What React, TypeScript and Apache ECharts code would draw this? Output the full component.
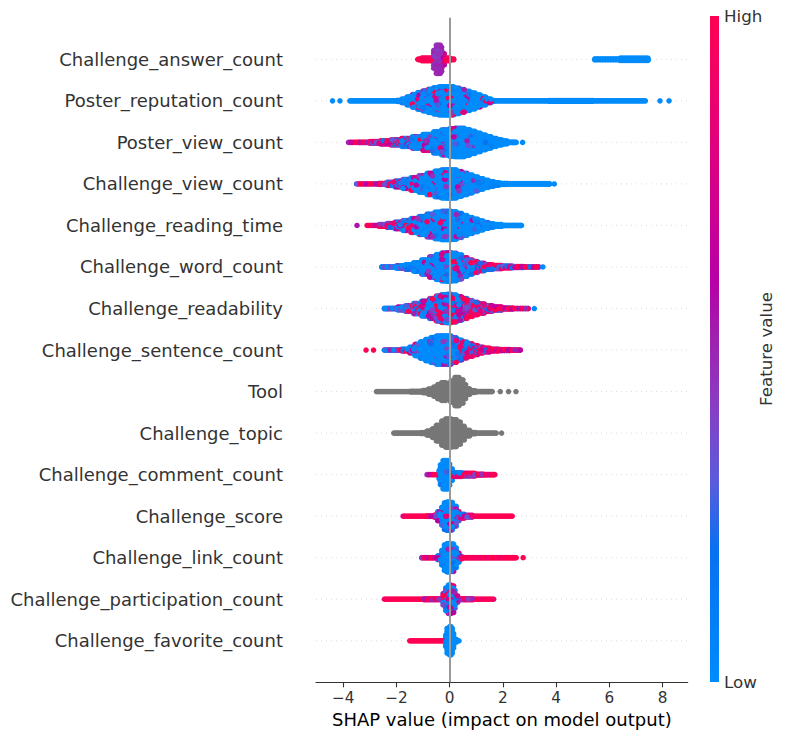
import React, { useEffect, useRef } from "react";
import * as echarts from "echarts";

// Features, bottom row (0) to top row (14)
const featureNames = [
  "Challenge_favorite_count",
  "Challenge_participation_count",
  "Challenge_link_count",
  "Challenge_score",
  "Challenge_comment_count",
  "Challenge_topic",
  "Tool",
  "Challenge_sentence_count",
  "Challenge_readability",
  "Challenge_word_count",
  "Challenge_reading_time",
  "Challenge_view_count",
  "Poster_view_count",
  "Poster_reputation_count",
  "Challenge_answer_count",
];

const xTicks = [-4, -2, 0, 2, 4, 6, 8];
const xMin = -5.02;
const xMax = 8.94;

// Histogram bins read from the swarm:
// [shapFrom, shapTo, density(0..1), featureValueLow, featureValueHigh]
// (from === to is a single isolated point)
const favoriteCount = [
  [-1.54, -0.17, 0, 1, 1.3], [-0.17, -0.1, 0.4, -3, 0.3], [-0.1, -0.02, 0.87, -3, 0.3],
  [-0.02, 0.08, 1.0, -3, 0.3], [0.08, 0.14, 0.87, -3, 0.3], [0.14, 0.2, 0.51, -3, 0.3],
  [0.2, 0.26, 0.09, -3, 0.3], [0.26, 0.39, 0, 0, 0],
];
const participationCount = [
  [-2.45, -1.0, 0, 0.9, 1.3], [-1.0, -0.28, 0.04, 0.4, 1.3], [-0.28, -0.18, 0.4, -0.3, 1.0],
  [-0.18, -0.08, 0.8, -0.5, 0.9], [-0.08, 0.06, 1.0, -0.5, 0.9], [0.06, 0.16, 0.94, -0.5, 0.9],
  [0.16, 0.25, 0.63, -0.4, 0.95], [0.25, 0.34, 0.23, 0, 1.1], [0.34, 0.86, 0.04, 0.4, 1.3],
  [0.86, 1.68, 0, 0.9, 1.3],
];
const linkCount = [
  [-1.08, -0.45, 0.01, 0.4, 1.3], [-0.45, -0.34, 0.13, -0.5, 1.0], [-0.34, -0.22, 0.51, -1.5, 0.7],
  [-0.22, -0.1, 0.9, -2, 0.6], [-0.1, 0.04, 1.0, -2, 0.6], [0.04, 0.17, 0.97, -2, 0.6],
  [0.17, 0.29, 0.7, -1.8, 0.7], [0.29, 0.39, 0.32, -1, 0.9], [0.39, 0.5, 0.09, 0.3, 1.3],
  [0.5, 2.55, 0.01, 0.85, 1.3], [2.76, 2.76, 0, 1, 1],
];
const scoreBins = [
  [-1.76, -0.9, 0, 0.85, 1.4], [-0.9, -0.56, 0.02, 0.4, 1.3], [-0.56, -0.45, 0.09, 0, 1.2],
  [-0.45, -0.34, 0.32, -0.8, 1.0], [-0.34, -0.24, 0.63, -1.5, 0.9], [-0.24, -0.1, 0.94, -1.5, 0.9],
  [-0.1, 0.02, 1.0, -1.5, 0.9], [0.02, 0.15, 0.97, -1.5, 0.9], [0.15, 0.27, 0.7, -1.2, 1.0],
  [0.27, 0.4, 0.32, -0.6, 1.1], [0.4, 0.6, 0.13, 0, 1.3], [0.6, 0.9, 0.06, 0.3, 1.3],
  [0.9, 2.4, 0, 0.9, 1.3],
];
const commentCount = [
  [-0.85, -0.42, 0, 0.5, 1.3], [-0.42, -0.36, 0.28, -2, 0.4], [-0.36, -0.28, 0.7, -3, 0.3],
  [-0.28, -0.14, 1.0, -3, 0.3], [-0.14, -0.04, 1.0, -3, 0.3], [-0.04, 0.04, 0.75, -3, 0.3],
  [0.04, 0.12, 0.4, -2, 0.5], [0.12, 0.5, 0.13, -0.3, 1.2], [0.5, 1.0, 0.09, 0.2, 1.3],
  [1.0, 1.3, 0.04, 0.4, 1.3], [1.3, 1.71, 0.01, 0.8, 1.3],
];
// gray rows (no feature value): [shapFrom, shapTo, density]
const topicBins = [
  [-2.11, -1.1, 0], [-1.1, -0.85, 0.04], [-0.85, -0.68, 0.14], [-0.68, -0.5, 0.3],
  [-0.5, -0.32, 0.55], [-0.32, -0.15, 0.85], [-0.15, 0.1, 1.0], [0.1, 0.28, 0.95],
  [0.28, 0.45, 0.78], [0.45, 0.6, 0.48], [0.6, 0.78, 0.2], [0.78, 1.05, 0.05],
  [1.05, 1.8, 0], [1.95, 1.95, 0],
];
const toolBins = [
  [-2.76, -1.5, 0], [-1.5, -1.0, 0.03], [-1.0, -0.8, 0.08], [-0.8, -0.6, 0.18],
  [-0.6, -0.45, 0.32], [-0.45, -0.3, 0.5], [-0.3, -0.1, 0.63], [-0.1, 0.05, 0.55],
  [0.05, 0.18, 0.75], [0.18, 0.38, 1.0], [0.38, 0.52, 0.82], [0.52, 0.65, 0.5],
  [0.65, 0.8, 0.2], [0.8, 1.0, 0.06], [1.0, 1.61, 0.01],
  [1.9, 1.9, 0], [2.21, 2.21, 0], [2.49, 2.49, 0],
];
const sentenceCount = [
  [-3.14, -3.14, 0, 1, 1], [-2.86, -2.86, 0, 1, 1], [-2.45, -1.8, 0.01, -0.6, 1.4],
  [-1.8, -1.5, 0.06, -0.8, 1.3], [-1.5, -1.3, 0.2, -1.2, 1.0], [-1.3, -1.1, 0.4, -1.6, 0.8],
  [-1.1, -0.9, 0.58, -1.8, 0.7], [-0.9, -0.7, 0.75, -2, 0.6], [-0.7, -0.5, 0.88, -2, 0.6],
  [-0.5, -0.3, 0.99, -2, 0.6], [-0.3, -0.1, 1.0, -1.8, 0.7], [-0.1, 0.1, 1.0, -1.4, 0.8],
  [0.1, 0.3, 0.87, -0.8, 1.0], [0.3, 0.5, 0.7, -0.5, 1.1], [0.5, 0.7, 0.56, -0.2, 1.2],
  [0.7, 0.9, 0.44, 0, 1.3], [0.9, 1.1, 0.32, 0.1, 1.4], [1.1, 1.3, 0.2, 0.2, 1.4],
  [1.3, 1.55, 0.13, 0.2, 1.4], [1.55, 1.9, 0.06, 0.3, 1.4], [1.9, 2.3, 0.04, 0.3, 1.4],
  [2.3, 2.68, 0.01, 0.3, 1.4],
];
const readability = [
  [-2.45, -1.95, 0.02, -0.8, 0.9], [-1.95, -1.65, 0.1, -0.6, 1.0], [-1.65, -1.35, 0.2, -0.5, 1.1],
  [-1.35, -1.05, 0.36, -0.5, 1.15], [-1.05, -0.75, 0.52, -0.5, 1.15], [-0.75, -0.5, 0.7, -0.5, 1.2],
  [-0.5, -0.3, 0.88, -0.5, 1.2], [-0.3, -0.1, 0.98, -0.5, 1.2], [-0.1, 0.1, 1.0, -0.5, 1.2],
  [0.1, 0.3, 0.95, -0.4, 1.25], [0.3, 0.5, 0.83, -0.3, 1.25], [0.5, 0.7, 0.7, -0.2, 1.3],
  [0.7, 0.9, 0.56, -0.1, 1.3], [0.9, 1.1, 0.44, 0, 1.3], [1.1, 1.35, 0.32, 0.1, 1.3],
  [1.35, 1.65, 0.2, 0.15, 1.3], [1.65, 2.0, 0.11, 0.2, 1.3], [2.0, 2.4, 0.05, 0.2, 1.3],
  [2.4, 3.0, 0.01, 0.2, 1.3], [3.18, 3.18, 0, 0, 0],
];
const wordCount = [
  [-2.58, -2.0, 0.01, -0.6, 0.55], [-2.0, -1.65, 0.08, -0.7, 0.55], [-1.65, -1.35, 0.16, -0.9, 0.6],
  [-1.35, -1.05, 0.3, -1.2, 0.7], [-1.05, -0.75, 0.5, -1.6, 0.8], [-0.75, -0.5, 0.72, -2, 0.9],
  [-0.5, -0.3, 0.88, -2.2, 1.0], [-0.3, -0.1, 0.98, -2.2, 1.05], [-0.1, 0.1, 1.0, -2.2, 1.05],
  [0.1, 0.3, 0.97, -2, 1.1], [0.3, 0.5, 0.85, -1.6, 1.1], [0.5, 0.7, 0.66, -1.1, 1.15],
  [0.7, 0.9, 0.5, -0.8, 1.2], [0.9, 1.1, 0.38, -0.5, 1.2], [1.1, 1.35, 0.26, -0.3, 1.2],
  [1.35, 1.65, 0.16, -0.1, 1.25], [1.65, 2.0, 0.11, 0, 1.25], [2.0, 2.4, 0.06, 0.1, 1.25],
  [2.4, 2.8, 0.04, 0.1, 1.25], [2.8, 3.4, 0.01, 0.1, 1.25], [3.5, 3.5, 0, 0, 0],
];
const readingTime = [
  [-3.48, -3.48, 0, 0.55, 0.55], [-3.14, -2.65, 0, 0.4, 1.3], [-2.65, -2.35, 0.06, 0.1, 1.3],
  [-2.35, -2.05, 0.13, 0, 1.25], [-2.05, -1.75, 0.23, -0.5, 1.2], [-1.75, -1.45, 0.35, -0.9, 1.15],
  [-1.45, -1.15, 0.49, -1.3, 1.1], [-1.15, -0.85, 0.63, -1.6, 1.05], [-0.85, -0.55, 0.8, -2, 1.0],
  [-0.55, -0.3, 0.94, -2.2, 0.95], [-0.3, -0.1, 1.0, -2.4, 0.9], [-0.1, 0.1, 1.0, -2.4, 0.9],
  [0.1, 0.3, 0.97, -2.6, 0.85], [0.3, 0.5, 0.85, -2.8, 0.8], [0.5, 0.7, 0.7, -3, 0.7],
  [0.7, 0.9, 0.56, -3, 0.6], [0.9, 1.1, 0.44, -3, 0.5], [1.1, 1.3, 0.32, -3, 0.4],
  [1.3, 1.5, 0.2, -3, 0.3], [1.5, 1.7, 0.11, 0, 0.1], [1.7, 2.0, 0.06, 0, 0],
  [2.0, 2.74, 0.01, 0, 0],
];
const challengeView = [
  [-3.5, -2.7, 0, 0.3, 1.3], [-2.7, -2.35, 0.04, 0.1, 1.3], [-2.35, -2.05, 0.11, -0.2, 1.25],
  [-2.05, -1.75, 0.2, -0.6, 1.2], [-1.75, -1.45, 0.32, -1, 1.15], [-1.45, -1.15, 0.44, -1.3, 1.1],
  [-1.15, -0.85, 0.58, -1.6, 1.05], [-0.85, -0.55, 0.75, -2, 1.0], [-0.55, -0.3, 0.9, -2.2, 0.95],
  [-0.3, -0.1, 0.99, -2.4, 0.9], [-0.1, 0.1, 1.0, -2.5, 0.9], [0.1, 0.3, 0.99, -2.6, 0.85],
  [0.3, 0.5, 0.87, -2.8, 0.8], [0.5, 0.7, 0.75, -3, 0.7], [0.7, 0.9, 0.63, -3, 0.6],
  [0.9, 1.1, 0.49, -3, 0.5], [1.1, 1.3, 0.37, -3, 0.4], [1.3, 1.5, 0.25, -3, 0.3],
  [1.5, 1.7, 0.16, 0, 0.1], [1.7, 1.9, 0.09, 0, 0.1], [1.9, 2.2, 0.04, 0, 0],
  [2.2, 3.8, 0.02, 0, 0], [3.93, 3.93, 0, 0, 0],
];
const posterView = [
  [-3.83, -3.4, 0, 0.5, 1.3], [-3.4, -3.0, 0.01, 0.4, 1.3], [-3.0, -2.6, 0.06, 0.3, 1.3],
  [-2.6, -2.2, 0.11, 0.1, 1.25], [-2.2, -1.8, 0.18, -0.3, 1.2], [-1.8, -1.4, 0.28, -0.8, 1.15],
  [-1.4, -1.0, 0.4, -1.3, 1.1], [-1.0, -0.6, 0.56, -1.8, 1.0], [-0.6, -0.3, 0.75, -2.2, 0.95],
  [-0.3, 0.0, 0.88, -2.5, 0.85], [0.0, 0.2, 0.97, -2.8, 0.8], [0.2, 0.4, 1.0, -3, 0.7],
  [0.4, 0.6, 1.0, -3, 0.7], [0.6, 0.8, 0.9, -3, 0.6], [0.8, 1.0, 0.78, -3, 0.5],
  [1.0, 1.2, 0.65, -3, 0.4], [1.2, 1.4, 0.52, -3, 0.3], [1.4, 1.6, 0.4, -3, 0.25],
  [1.6, 1.8, 0.28, -3, 0.2], [1.8, 2.0, 0.18, 0, 0], [2.0, 2.2, 0.1, 0, 0],
  [2.2, 2.55, 0.02, 0, 0], [2.74, 2.74, 0, 0, 0],
];
const posterReputation = [
  [-4.4, -4.4, 0, 0, 0], [-4.12, -4.12, 0, 0, 0], [-3.76, -2.0, 0, 0, 0],
  [-2.0, -1.8, 0.04, -2, 0.5], [-1.8, -1.6, 0.13, -2.5, 1.0], [-1.6, -1.4, 0.28, -3, 1.2],
  [-1.4, -1.2, 0.44, -3.2, 1.3], [-1.2, -1.0, 0.59, -3.3, 1.35], [-1.0, -0.8, 0.7, -3.4, 1.4],
  [-0.8, -0.6, 0.82, -3.4, 1.4], [-0.6, -0.4, 0.92, -3.4, 1.4], [-0.4, -0.2, 0.99, -3.4, 1.4],
  [-0.2, 0.0, 1.0, -3.4, 1.4], [0.0, 0.2, 0.99, -3.4, 1.35], [0.2, 0.4, 0.9, -3.4, 1.3],
  [0.4, 0.6, 0.8, -3.5, 1.25], [0.6, 0.8, 0.68, -3.5, 1.2], [0.8, 1.0, 0.56, -3.5, 1.2],
  [1.0, 1.2, 0.42, -3.5, 1.2], [1.2, 1.4, 0.28, -3.5, 1.2], [1.4, 1.6, 0.13, -3, 1.2],
  [1.6, 1.75, 0.03, -2, 1.3], [1.75, 3.7, 0, 0, 0], [3.7, 5.4, 0.03, 0, 0],
  [5.4, 7.36, 0, 0, 0], [7.9, 7.9, 0, 0, 0], [8.24, 8.24, 0, 0, 0],
];
const answerCount = [
  [-1.22, -1.05, 0.03, 1, 1.3], [-1.05, -0.62, 0.09, 0.9, 1.3], [-0.62, -0.54, 0.63, 0.42, 0.52],
  [-0.54, -0.44, 1.0, 0.42, 0.52], [-0.44, -0.34, 1.0, 0.42, 0.52], [-0.34, -0.25, 0.85, 0.42, 0.52],
  [-0.25, -0.18, 0.4, 0.5, 0.8], [-0.18, 0.05, 0.09, 0.9, 1.3], [0.05, 0.17, 0.03, 0.9, 1.3],
  [5.43, 6.4, 0.04, 0, 0], [6.4, 7.5, 0.08, 0, 0],
];

const rowBins: number[][][] = [
  favoriteCount, participationCount, linkCount, scoreBins, commentCount, topicBins, toolBins,
  sentenceCount, readability, wordCount, readingTime, challengeView, posterView, posterReputation,
  answerCount,
];
const grayRows = [5, 6];

// ----- styling / layout -----
const FONT = "DejaVu Sans";
const COLOR_STOPS: [number, string][] = [
  [0, "#008bfb"], [0.2, "#0870f0"], [0.3, "#5a5cdc"], [0.42, "#8a3cc2"], [0.52, "#a01fae"],
  [0.6, "#b600a6"], [0.72, "#d00090"], [0.87, "#ec0070"], [1, "#ff0052"],
];
const hex = (h: string) => [1, 3, 5].map((i) => parseInt(h.slice(i, i + 2), 16));
function cmap(v: number): string {
  const t = Math.max(0, Math.min(1, v));
  for (let i = 1; i < COLOR_STOPS.length; i++) {
    const [o1, c1] = COLOR_STOPS[i];
    const [o0, c0] = COLOR_STOPS[i - 1];
    if (t <= o1) {
      const f = (t - o0) / (o1 - o0);
      const a = hex(c0), b = hex(c1);
      const c = a.map((x, j) => Math.round(x + (b[j] - x) * f));
      return `rgb(${c[0]},${c[1]},${c[2]})`;
    }
  }
  return COLOR_STOPS[COLOR_STOPS.length - 1][1];
}

const DX = 0.05; // column step (SHAP units)
const DY = 0.075; // vertical step (row units)
const MAXH = 0.34; // half-height of densest column (row units)
const PHI = 0.6180339887; // colour dither step
const PSI = 0.7548776662; // draw-order step

function buildPoints() {
  const colored: { value: number[]; itemStyle: { color: string }; key: number }[] = [];
  const gray: number[][] = [];
  let idx = 0;
  rowBins.forEach((bins, row) => {
    const isGray = grayRows.includes(row);
    let k = 0;
    for (const bin of bins) {
      const [a, b, s] = bin;
      const lo = bin[3] ?? 0, hi = bin[4] ?? 0;
      const half = s * MAXH;
      const cols: [number, number][] = [];
      if (b > a) {
        for (let m = Math.ceil(a / DX - 1e-9); m * DX < b; m++) cols.push([m * DX, m]);
      }
      if (!cols.length) cols.push([(a + b) / 2, 0]);
      for (const [x, m] of cols) {
        let c = Math.max(1, Math.round((2 * half) / DY) + 1);
        if (half > 0 && Math.abs(m) % 2 === 1) c += 1;
        for (let i = 0; i < c; i++) {
          const off = c === 1 ? 0 : -half + (2 * half * i) / (c - 1);
          if (isGray) {
            gray.push([x, row + off]);
          } else {
            const p = (k * PHI) % 1;
            k++;
            const v = lo + (hi - lo) * p;
            colored.push({ value: [x, row + off], itemStyle: { color: cmap(v) }, key: (idx * PSI) % 1 });
            idx++;
          }
        }
      }
    }
  });
  colored.sort((u, w) => u.key - w.key);
  return { colored: colored.map(({ value, itemStyle }) => ({ value, itemStyle })), gray };
}

export default function App() {
  const ref = useRef<HTMLDivElement>(null);
  useEffect(() => {
    if (!ref.current) return;
    const chart = echarts.init(ref.current, undefined, { renderer: "svg" });
    const { colored, gray } = buildPoints();
    // dotted guide line across each feature row, broken between rows
    const guideData: any[] = [];
    featureNames.forEach((_, i) => {
      if (i > 0) guideData.push("-");
      guideData.push([xMin, i], [xMax, i]);
    });
    const barTop = 16, barBottom = 682;
    chart.setOption({
      animation: false,
      grid: { left: 316, right: 98.3, top: 17.8, bottom: 57.7, containLabel: false },
      xAxis: {
        type: "value",
        min: xMin,
        max: xMax,
        axisLine: { show: true, onZero: false, lineStyle: { color: "#333333", width: 1.1 } },
        axisTick: { show: true, length: 5, lineStyle: { color: "#333333", width: 1.1 }, customValues: xTicks },
        axisLabel: {
          customValues: xTicks,
          formatter: (v: number) => (v < 0 ? "\u2212" + Math.abs(v) : String(v)),
          fontSize: 15.3,
          color: "#333333",
          margin: 8,
          fontFamily: FONT,
        },
        splitLine: { show: false },
        name: "SHAP value (impact on model output)",
        nameLocation: "middle",
        nameGap: 28,
        nameTextStyle: { fontSize: 18, color: "#000000", fontFamily: FONT },
      },
      yAxis: {
        type: "value",
        min: -1,
        max: 15,
        interval: 1,
        axisLine: { show: false, onZero: false },
        axisTick: { show: false },
        splitLine: { show: false },
        axisLabel: {
          formatter: (v: number) => featureNames[v] ?? "",
          fontSize: 18,
          color: "#333333",
          margin: 33,
          fontFamily: FONT,
        },
      },
      series: [
        {
          type: "line",
          data: guideData,
          connectNulls: false,
          symbol: "none",
          silent: true,
          z: 1,
          lineStyle: { color: "#cccccc", width: 0.7, type: [1, 4] },
        },
        {
          type: "scatter",
          data: gray,
          symbolSize: 5.5,
          silent: true,
          progressive: 0,
          itemStyle: { color: "#777777", opacity: 1 },
          z: 2,
        },
        {
          type: "scatter",
          data: colored,
          symbolSize: 5.5,
          silent: true,
          progressive: 0,
          itemStyle: { opacity: 1 },
          z: 3,
          markLine: {
            silent: true,
            symbol: "none",
            label: { show: false },
            data: [{ xAxis: 0, lineStyle: { color: "#999999", width: 2, type: "solid" } }],
          },
        },
      ],
      graphic: [
        {
          type: "rect",
          shape: { x: 710, y: barTop, width: 9, height: barBottom - barTop },
          style: {
            fill: new echarts.graphic.LinearGradient(
              0, 0, 0, 1,
              COLOR_STOPS.map(([o, c]) => ({ offset: 1 - o, color: c })).reverse()
            ),
          },
        },
        {
          type: "text",
          x: 724,
          y: barTop,
          style: { text: "High", fontSize: 16.7, fill: "#333333", fontFamily: FONT, textVerticalAlign: "middle" },
        },
        {
          type: "text",
          x: 724,
          y: barBottom,
          style: { text: "Low", fontSize: 16.7, fill: "#333333", fontFamily: FONT, textVerticalAlign: "middle" },
        },
        {
          type: "text",
          x: 766,
          y: 349,
          rotation: Math.PI / 2,
          style: {
            text: "Feature value",
            fontSize: 16.7,
            fill: "#333333",
            fontFamily: FONT,
            textAlign: "center",
            textVerticalAlign: "middle",
          },
        },
      ],
    });
    return () => chart.dispose();
  }, []);
  return (
    <div
      ref={ref}
      style={{ position: "fixed", left: 0, top: 0, width: 786, height: 740, background: "#ffffff" }}
    />
  );
}
